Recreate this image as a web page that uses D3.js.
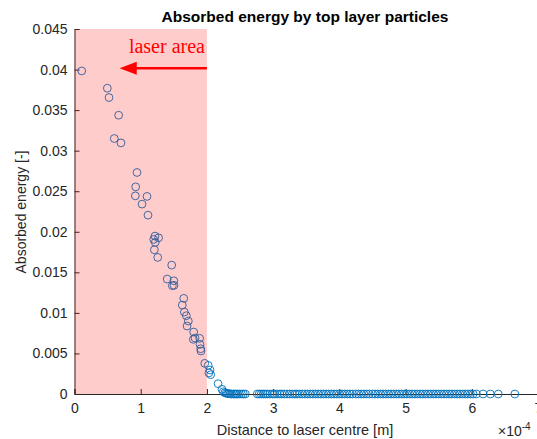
<!DOCTYPE html>
<html>
<head>
<meta charset="utf-8">
<script src="https://cdn.jsdelivr.net/npm/d3@7"></script>
<style>
  body { margin: 0; background: #fff; }
  svg { font-family: "Liberation Sans", Arial, sans-serif; }
</style>
</head>
<body>
<div id="chart"></div>
<script>
// particles inside the laser spot (x in 1e-4 m)
var insideX = [0.109, 0.496, 0.521, 0.667, 0.601, 0.702, 0.944, 0.924, 0.919, 1.095, 1.02, 1.11,
    1.216, 1.27, 1.196, 1.22, 1.206, 1.257, 1.468, 1.40, 1.50, 1.478, 1.503, 1.65, 1.628, 1.659,
    1.689, 1.719, 1.70, 1.80, 1.82, 1.89, 1.795, 1.896, 1.906, 1.91, 1.967];
var insideY = [0.03983, 0.0377, 0.03655, 0.03437, 0.0315, 0.03096, 0.02731, 0.02554, 0.02443, 0.02436, 0.02341, 0.02205,
    0.01947, 0.01926, 0.01906, 0.01870, 0.01778, 0.01684, 0.01589, 0.01417, 0.01396, 0.01335, 0.0134, 0.01179, 0.01096, 0.0101,
    0.00965, 0.00899, 0.00838, 0.00764, 0.0069, 0.00686, 0.00674, 0.00612, 0.00558, 0.0053, 0.00378];

// particles outside the laser spot
var outsideX = [2.02, 2.047, 2.057, 2.03, 2.168, 2.228, 2.248, 2.27, 2.29, 2.31, 2.33, 2.35, 2.37, 2.40, 2.42,
    2.44, 2.46, 2.49, 2.52, 2.55, 2.58, 2.76, 2.79, 2.82, 2.85, 2.88, 2.91, 2.95, 2.99, 3.02, 3.06,
    3.10, 3.13, 3.17, 3.21, 3.25, 3.29, 3.33, 3.36, 3.40, 3.44, 3.48, 3.52, 3.56, 3.60, 3.64, 3.68,
    3.72, 3.76, 3.80, 3.84, 3.88, 3.92, 3.96, 4.00, 4.04, 4.08, 4.12, 4.16, 4.20, 4.25, 4.29, 4.33,
    4.37, 4.41, 4.45, 4.50, 4.54, 4.58, 4.62, 4.66, 4.70, 4.74, 4.78, 4.82, 4.86, 4.90, 4.94, 4.98,
    5.02, 5.06, 5.10, 5.14, 5.18, 5.22, 5.26, 5.30, 5.34, 5.38, 5.42, 5.46, 5.50, 5.54, 5.58, 5.62,
    5.66, 5.70, 5.74, 5.78, 5.82, 5.86, 5.90, 5.94, 5.98, 6.02, 6.07, 6.17, 6.28, 6.40, 6.65];
var outsideY = [0.00353, 0.00296, 0.00238, 0.0026, 0.00127, 0.00058, 0.00028, 0.00015, 0.0001, 0.00006, 0.00004, 0.00002, 0, 0, 0,
    0, 0, 0, 0, 0, 0, 0, 0, 0, 0, 0, 0, 0, 0, 0, 0,
    0, 0, 0, 0, 0, 0, 0, 0, 0, 0, 0, 0, 0, 0, 0, 0,
    0, 0, 0, 0, 0, 0, 0, 0, 0, 0, 0, 0, 0, 0, 0, 0,
    0, 0, 0, 0, 0, 0, 0, 0, 0, 0, 0, 0, 0, 0, 0, 0,
    0, 0, 0, 0, 0, 0, 0, 0, 0, 0, 0, 0, 0, 0, 0, 0,
    0, 0, 0, 0, 0, 0, 0, 0, 0, 0, 0, 0, 0, 0, 0];

var xTicks = [0, 1, 2, 3, 4, 5, 6, 7];
var yTicks = [0, 0.005, 0.01, 0.015, 0.02, 0.025, 0.03, 0.035, 0.04, 0.045];
var laserEdge = 2;

var width = 537, height = 439;
var margin = {top: 29, right: -1, bottom: 45, left: 74.5};

var svg = d3.select('#chart').append('svg')
    .attr('width', width)
    .attr('height', height);

var x = d3.scaleLinear().domain([0, 7]).range([margin.left, width - margin.right]);
var y = d3.scaleLinear().domain([0, 0.045]).range([height - margin.bottom, margin.top]);

var axisColor = '#262626';

// axes (box off, ticks inward)
var xAxis = svg.append('g')
    .attr('transform', 'translate(0,' + y(0) + ')')
    .call(d3.axisBottom(x).tickValues(xTicks).tickSize(-5).tickPadding(9).tickFormat(d3.format('d')));
var yAxis = svg.append('g')
    .attr('transform', 'translate(' + x(0) + ',0)')
    .call(d3.axisLeft(y).tickValues(yTicks).tickSize(-5).tickPadding(7).tickFormat(function (d) { return d === 0 ? '0' : d3.format('.3~f')(d); }));

[xAxis, yAxis].forEach(function (g) {
    g.select('.domain').attr('stroke', axisColor).attr('stroke-width', 1);
    g.selectAll('.tick line').attr('stroke', axisColor);
    g.selectAll('.tick text').attr('fill', axisColor).style('font-size', '14px').style('font-family', '"Liberation Sans", Arial, sans-serif');
});

// markers
svg.append('g').selectAll('circle.out')
    .data(outsideX.map(function (d, i) { return [d, outsideY[i]]; }))
    .enter().append('circle')
    .attr('cx', function (d) { return x(d[0]); })
    .attr('cy', function (d) { return y(d[1]); })
    .attr('r', 3.9)
    .attr('fill', 'none')
    .attr('stroke', '#0072BD')
    .attr('stroke-width', 0.9);

svg.append('g').selectAll('circle.in')
    .data(insideX.map(function (d, i) { return [d, insideY[i]]; }))
    .enter().append('circle')
    .attr('cx', function (d) { return x(d[0]); })
    .attr('cy', function (d) { return y(d[1]); })
    .attr('r', 3.9)
    .attr('fill', 'none')
    .attr('stroke', '#0072BD')
    .attr('stroke-width', 0.9);

// laser patch on top
svg.append('rect')
    .attr('x', x(0))
    .attr('y', y(0.045))
    .attr('width', x(laserEdge) - x(0))
    .attr('height', y(0) - y(0.045))
    .attr('fill', 'red')
    .attr('fill-opacity', 0.2);

// arrow + label
svg.append('line')
    .attr('x1', x(laserEdge)).attr('y1', y(0.04016))
    .attr('x2', x(0.9)).attr('y2', y(0.04016))
    .attr('stroke', 'red').attr('stroke-width', 2.5);
svg.append('path')
    .attr('d', d3.line()([[x(0.68), y(0.04016)], [x(0.94), y(0.04016) - 6.5], [x(0.94), y(0.04016) + 6.5]]) + 'Z')
    .attr('fill', 'red');
svg.append('text')
    .attr('x', x(laserEdge) - 2).attr('y', y(0.0421))
    .attr('text-anchor', 'end')
    .attr('fill', 'red')
    .style('font-family', '"Liberation Serif", "DejaVu Serif", serif')
    .style('font-size', '20px')
    .text('laser area');

// titles
svg.append('text')
    .attr('x', 305).attr('y', 22)
    .attr('text-anchor', 'middle')
    .attr('fill', '#000')
    .style('font-weight', 'bold')
    .style('font-size', '15.5px')
    .text('Absorbed energy by top layer particles');

svg.append('text')
    .attr('x', 305).attr('y', 435)
    .attr('text-anchor', 'middle')
    .attr('fill', axisColor)
    .style('font-size', '14.5px')
    .text('Distance to laser centre [m]');

svg.append('text')
    .attr('transform', 'translate(26,' + 212 + ') rotate(-90)')
    .attr('text-anchor', 'middle')
    .attr('fill', axisColor)
    .style('font-size', '14px')
    .text('Absorbed energy [-]');

// exponent label
var expo = svg.append('text')
    .attr('x', 498).attr('y', 436)
    .attr('fill', axisColor)
    .style('font-size', '14px');
expo.append('tspan').text('\u00d710');
expo.append('tspan').attr('dy', -6).style('font-size', '10px').text('-4');
</script>
</body>
</html>
